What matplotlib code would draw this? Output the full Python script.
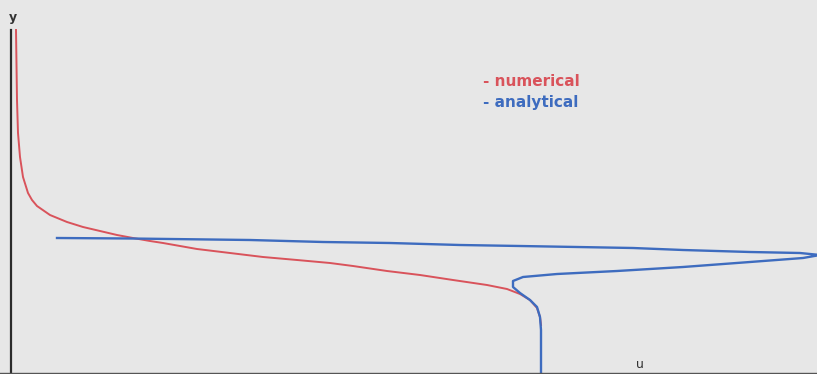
import matplotlib
matplotlib.use("Agg")
import matplotlib.pyplot as plt

# velocity profiles u(y): numerical solution vs analytical one
num_u = [0.05, 0.06, 0.07, 0.09, 0.12, 0.17, 0.21, 0.26, 0.39, 0.56, 0.72, 0.89,
         1.06, 1.22, 1.39, 1.52, 1.86, 2.19, 2.52, 2.86, 3.19, 3.42, 3.76, 4.09,
         4.42, 4.76, 4.96, 5.09, 5.19, 5.26, 5.29, 5.30]
num_y = [3.43, 2.73, 2.40, 2.16, 1.96, 1.80, 1.73, 1.67, 1.58, 1.51, 1.46, 1.42,
         1.38, 1.35, 1.32, 1.30, 1.24, 1.20, 1.16, 1.13, 1.10, 1.07, 1.02, 0.98,
         0.93, 0.88, 0.84, 0.79, 0.73, 0.65, 0.56, 0.48]

ana_u = [0.46, 1.19, 2.39, 3.12, 3.79, 4.49, 5.09, 5.66, 6.22, 6.72, 7.39, 7.89,
         8.09, 7.92, 7.39, 6.72, 6.06, 5.46, 5.12, 5.02, 5.02, 5.09, 5.19, 5.26,
         5.29, 5.30, 5.30]
ana_y = [1.35, 1.345, 1.33, 1.31, 1.30, 1.28, 1.27, 1.26, 1.25, 1.23, 1.21, 1.20,
         1.18, 1.15, 1.11, 1.06, 1.02, 0.99, 0.96, 0.92, 0.86, 0.80, 0.73, 0.66,
         0.56, 0.43, -0.01]

labels = ["- numerical", "- analytical"]
RED = "#d9535b"
BLUE = "#3e6cbf"
BG = "#e7e7e7"

fig = plt.figure(figsize=(8.17, 3.74), dpi=100, facecolor=BG)
ax = fig.add_axes([0, 0, 1, 1])
ax.set_facecolor(BG)

ax.plot(num_u, num_y, color=RED, lw=1.4, solid_joinstyle="round")
ax.plot(ana_u, ana_y, color=BLUE, lw=1.7, solid_joinstyle="round")

ax.set_xlim(-0.11, 8.06)
ax.set_ylim(-0.01, 3.73)

# only the two axis lines, no ticks
for s in ("top", "right"):
    ax.spines[s].set_visible(False)
ax.spines["left"].set_position(("data", 0))
ax.spines["left"].set_bounds(0, 3.43)
ax.spines["left"].set_color("#2b2b2b")
ax.spines["left"].set_linewidth(1.6)
ax.spines["bottom"].set_position(("data", 0))
ax.spines["bottom"].set_color("#555555")
ax.spines["bottom"].set_linewidth(1.0)
ax.set_xticks([])
ax.set_yticks([])

ax.text(0.02, 3.55, "y", fontsize=9, fontweight="bold", color="#333333",
        ha="center", va="center")
ax.text(6.29, 0.08, "u", fontsize=9, color="#333333", ha="center", va="center")

ax.text(4.72, 2.91, labels[0], fontsize=11, fontweight="bold", color=RED,
        ha="left", va="center")
ax.text(4.72, 2.70, labels[1], fontsize=11, fontweight="bold", color=BLUE,
        ha="left", va="center")

fig.savefig("out.png", dpi=100, facecolor=fig.get_facecolor())
